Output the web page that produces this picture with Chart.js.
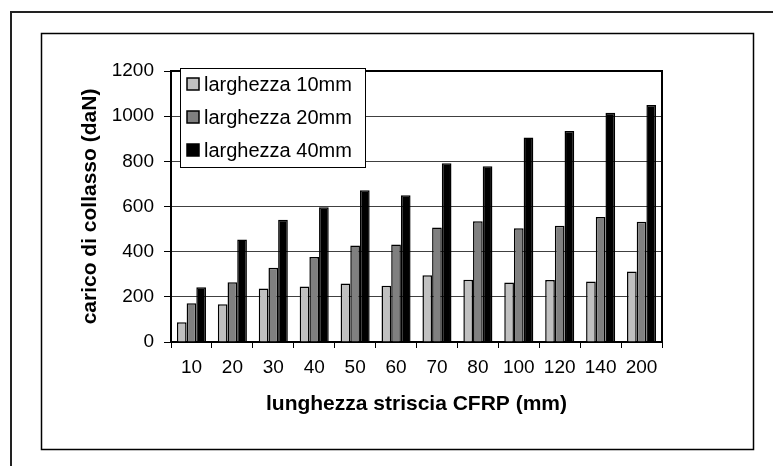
<!DOCTYPE html>
<html>
<head>
<meta charset="utf-8">
<script src="https://cdn.jsdelivr.net/npm/chart.js@4.4.1/dist/chart.umd.min.js"></script>
<style>
  html, body { margin: 0; padding: 0; background: #fff; }
  #wrap { width: 773px; height: 466px; position: relative; }
</style>
</head>
<body>
<div id="wrap"><canvas id="chart" width="773" height="466"></canvas></div>
<script>
// data
const lunghezze = ['10', '20', '30', '40', '50', '60', '70', '80', '100', '120', '140', '200'];
const larghezza10 = [87, 167, 237, 246, 259, 249, 296, 276, 263, 274, 268, 312];
const larghezza20 = [172, 265, 329, 376, 427, 432, 507, 535, 504, 515, 554, 532];
const larghezza40 = [242, 454, 541, 597, 672, 650, 791, 778, 906, 934, 1015, 1049];
const seriesNames = ['larghezza 10mm', 'larghezza 20mm', 'larghezza 40mm'];
const seriesColors = ['#c0c0c0', '#808080', '#000000'];
const yMin = 0, yMax = 1200, yStep = 200;

const FONT = '"Liberation Sans", Arial, sans-serif';

// frames round the picture + plot border
const framePlugin = {
    id: 'frames',
    beforeDraw(chart) {
        const ctx = chart.ctx;
        ctx.save();
        ctx.strokeStyle = '#222';
        ctx.lineWidth = 2;
        ctx.strokeRect(11, 12, 800, 500);
        ctx.strokeStyle = '#000';
        ctx.lineWidth = 1.5;
        ctx.strokeRect(41.5, 33.5, 712, 416);
        ctx.restore();
    },
    afterDatasetsDraw(chart) {
        const a = chart.chartArea;
        const ctx = chart.ctx;
        ctx.save();
        ctx.strokeStyle = '#000';
        ctx.lineWidth = 2;
        ctx.beginPath();
        ctx.moveTo(a.left, a.top);
        ctx.lineTo(a.right, a.top);
        ctx.lineTo(a.right, a.bottom);
        ctx.stroke();
        ctx.restore();
    }
};

// legend box sitting inside the plot, top left
const boxLegend = {
    id: 'boxLegend',
    afterDraw(chart) {
        const a = chart.chartArea;
        const ctx = chart.ctx;
        const x = a.left + 9, y = a.top - 3, w = 185, h = 99;
        ctx.save();
        ctx.fillStyle = '#fff';
        ctx.fillRect(x, y, w, h);
        ctx.strokeStyle = '#000';
        ctx.lineWidth = 1;
        ctx.strokeRect(x + 0.5, y + 0.5, w, h);
        ctx.font = '20px ' + FONT;
        ctx.textBaseline = 'middle';
        chart.data.datasets.forEach((ds, i) => {
            const cy = y + 16 + i * 33;
            ctx.fillStyle = ds.backgroundColor;
            ctx.fillRect(x + 7, cy - 6, 12, 12);
            ctx.lineWidth = 1.5;
            ctx.strokeStyle = '#000';
            ctx.strokeRect(x + 7, cy - 6, 12, 12);
            ctx.fillStyle = '#000';
            ctx.fillText(ds.label, x + 24, cy + 1);
        });
        ctx.restore();
    }
};

const ctx = document.getElementById('chart').getContext('2d');
const myChart = new Chart(ctx, {
    type: 'bar',
    data: {
        labels: lunghezze,
        datasets: [
            { label: seriesNames[0], data: larghezza10, backgroundColor: seriesColors[0] },
            { label: seriesNames[1], data: larghezza20, backgroundColor: seriesColors[1] },
            { label: seriesNames[2], data: larghezza40, backgroundColor: seriesColors[2] }
        ]
    },
    options: {
        responsive: false,
        animation: false,
        layout: { padding: { left: 78, right: 111, top: 71, bottom: 40 } },
        datasets: {
            bar: {
                borderColor: '#000',
                borderWidth: 1.5,
                categoryPercentage: 0.71,
                barPercentage: 1
            }
        },
        plugins: {
            legend: { display: false },
            tooltip: { enabled: false }
        },
        scales: {
            x: {
                grid: { drawOnChartArea: false, drawTicks: true, tickLength: 6, tickColor: '#000', tickWidth: 1 },
                border: { color: '#000', width: 2 },
                ticks: { color: '#000', font: { family: FONT, size: 19 }, padding: 8, maxRotation: 0, autoSkip: false },
                title: {
                    display: true,
                    text: 'lunghezza striscia CFRP (mm)',
                    color: '#000',
                    font: { family: FONT, size: 21, weight: 'bold' },
                    padding: { top: 0, bottom: 9 }
                },
                afterFit(scale) { scale.height = 84; }
            },
            y: {
                min: yMin,
                max: yMax,
                ticks: {
                    stepSize: yStep, color: '#000', font: { family: FONT, size: 19 }, padding: 10,
                    callback: v => String(v)
                },
                grid: { color: '#404040', lineWidth: 1, tickLength: 7, tickColor: '#000' },
                border: { color: '#000', width: 2 },
                title: {
                    display: true,
                    text: 'carico di collasso (daN)',
                    color: '#000',
                    font: { family: FONT, size: 21, weight: 'bold' },
                    padding: { top: 0, bottom: 0 }
                },
                afterFit(scale) { scale.width = 93; }
            }
        }
    },
    plugins: [framePlugin, boxLegend]
});
</script>
</body>
</html>
